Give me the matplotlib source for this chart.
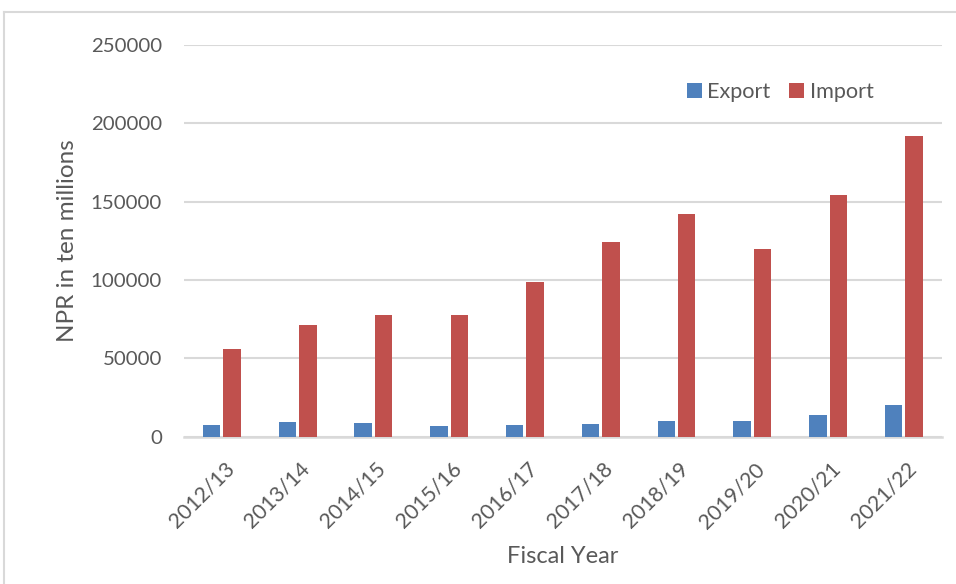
import matplotlib.pyplot as plt
import matplotlib.transforms as mtransforms
import numpy as np
from matplotlib.lines import Line2D

# Nepal foreign trade, NPR in ten millions (crore)
fiscal_years = ["2012/13", "2013/14", "2014/15", "2015/16", "2016/17",
                "2017/18", "2018/19", "2019/20", "2020/21", "2021/22"]
export_values = [7674, 9199, 8532, 7012, 7305, 8116, 9711, 9771, 14144, 20053]
import_values = [55666, 71459, 77468, 77360, 99011, 124517, 141853, 119680, 153953, 192052]
y_ticks = [0, 50000, 100000, 150000, 200000, 250000]

EXPORT_COLOR = "#4F81BD"
IMPORT_COLOR = "#C0504D"
TEXT_COLOR = "#595959"
GRID_COLOR = "#D9D9D9"

plt.rcParams["font.family"] = ["Lato", "DejaVu Sans"]

fig = plt.figure(figsize=(9.56, 5.84), dpi=100)
ax = fig.add_axes([0.1925, 0.2522, 0.7925, 0.6708])

x = np.arange(len(fiscal_years))
bar_w = 0.23
ax.bar(x - 0.135, export_values, width=bar_w, color=EXPORT_COLOR, label="Export", zorder=3)
ax.bar(x + 0.135, import_values, width=bar_w, color=IMPORT_COLOR, label="Import", zorder=3)

ax.set_xlim(-0.5, len(fiscal_years) - 0.5)
ax.set_ylim(0, 250000)
ax.set_yticks(y_ticks)
ax.set_yticklabels([str(v) for v in y_ticks], fontsize=14.7, color=TEXT_COLOR)
ax.yaxis.grid(True, color=GRID_COLOR, linewidth=1.5, zorder=0)
ax.set_axisbelow(True)

ax.set_xticks(x)
ax.set_xticklabels(fiscal_years, rotation=45, ha="right", va="center",
                   rotation_mode="anchor", fontsize=15.3, color=TEXT_COLOR)
ax.tick_params(axis="both", length=0)
ax.tick_params(axis="x", pad=21)
ax.tick_params(axis="y", pad=16)

# nudge rotated year labels to the right
shift = mtransforms.ScaledTranslation(9 / 100, 0, fig.dpi_scale_trans)
for lbl in ax.get_xticklabels():
    lbl.set_transform(lbl.get_transform() + shift)

for side in ["left", "right", "top"]:
    ax.spines[side].set_visible(False)
ax.spines["bottom"].set_color(GRID_COLOR)
ax.spines["bottom"].set_linewidth(1.8)

ax.set_ylabel("NPR in ten millions", fontsize=17.5, color=TEXT_COLOR, va="center")
ax.yaxis.set_label_coords((67 - 184) / 758, 0.5)
ax.set_xlabel("Fiscal Year", fontsize=17, color=TEXT_COLOR, va="center")
ax.xaxis.set_label_coords(0.5, (436.7 - 556) / 391.7)

leg = ax.legend(loc="center", bbox_to_anchor=(0.816, 0.8425),
                bbox_transform=fig.transFigure, ncol=2, frameon=False,
                handlelength=0.7, handleheight=0.7, handletextpad=0.25,
                columnspacing=0.85, fontsize=15.6)
for t in leg.get_texts():
    t.set_color(TEXT_COLOR)

# chart area border
fig.add_artist(Line2D([4 / 956, 1], [1 - 12 / 584, 1 - 12 / 584],
                      transform=fig.transFigure, color=GRID_COLOR, linewidth=1.5))
fig.add_artist(Line2D([4 / 956, 4 / 956], [0, 1 - 12 / 584],
                      transform=fig.transFigure, color=GRID_COLOR, linewidth=1.5))

fig.savefig("out.png", dpi=100)
